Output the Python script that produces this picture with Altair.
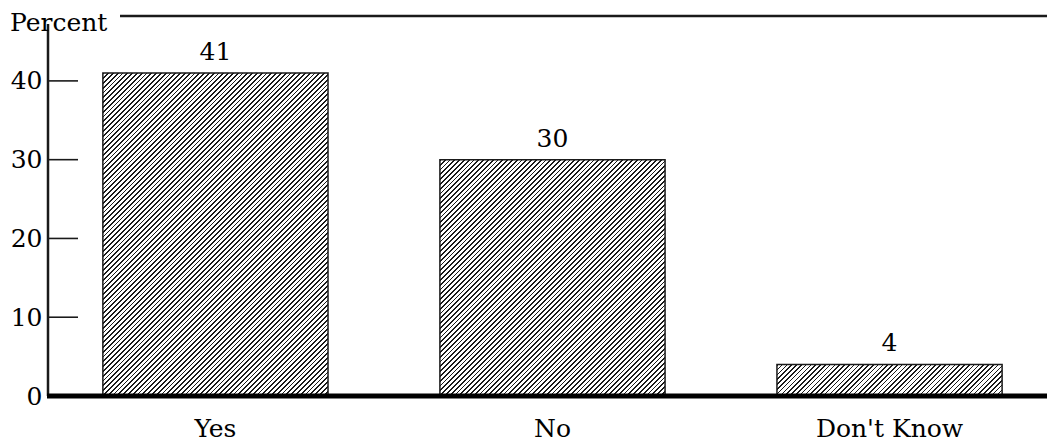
import math
import altair as alt
import pandas as pd

# ---- data ----
categories = ["Yes", "No", "Don't Know"]
values = [41, 30, 4]
y_ticks = [0, 10, 20, 30, 40]
y_title = "Percent"

# ---- layout / style ----
FONT = "DejaVu Serif"
FS = 25
W_PLOT = 999
H_PLOT = 386
Y_MAX = 49
PX_PER_UNIT = H_PLOT / Y_MAX
PAD_IN = 0.332
PAD_OUT = 0.148
STEP = W_PLOT / (len(categories) - PAD_IN + 2 * PAD_OUT)
BAR_W = STEP * (1 - PAD_IN)
HATCH_PERIOD = 4.8      # horizontal spacing of hatch lines, px
HATCH_FRAC = 0.36       # fraction of period that is dark
INK = "#1a1a1a"

df = pd.DataFrame({"cat": categories, "val": values})

x_scale = alt.Scale(domain=categories, paddingInner=PAD_IN,
                    paddingOuter=PAD_OUT, align=0.55)
y_scale = alt.Scale(domain=[0, Y_MAX], nice=False, zero=True)

x_axis = alt.Axis(labelFont=FONT, labelFontSize=FS, labelColor="black",
                  labelAngle=0, labelPadding=20, ticks=False,
                  tickSize=0, domain=False, grid=False)
y_axis = alt.Axis(values=y_ticks, labelFont=FONT, labelFontSize=FS,
                  labelColor="black", labelPadding=6, ticks=False,
                  tickSize=0, domain=False, grid=False)

x_enc = alt.X("cat:N", scale=x_scale, sort=categories, title=None, axis=x_axis)
y_enc = alt.Y("val:Q", scale=y_scale, title=None, axis=y_axis)


def hatch_gradient(w, h):
    """Diagonal '/' hatching as a striped linear gradient over the bar's box."""
    d = w * w + h * h
    x2 = (w + h) * w / d
    y2 = (w + h) * h / d
    n = (w + h) / HATCH_PERIOD
    stops = []
    i = 0
    while i / n < 1:
        a = i / n
        b = min((i + HATCH_FRAC) / n, 1.0)
        c = min((i + 1) / n, 1.0)
        stops += [
            {"offset": a, "color": INK},
            {"offset": b, "color": INK},
            {"offset": b, "color": "white"},
            {"offset": c, "color": "white"},
        ]
        i += 1
    return {"gradient": "linear", "x1": 0, "y1": 0, "x2": x2, "y2": y2,
            "stops": stops}


layers = []
for cat, val in zip(categories, values):
    grad = hatch_gradient(BAR_W, val * PX_PER_UNIT)
    layers.append(
        alt.Chart(df).transform_filter(alt.datum.cat == cat)
        .mark_bar(fill=grad, stroke=INK, strokeWidth=1.5)
        .encode(x=x_enc, y=y_enc)
    )

labels = alt.Chart(df).mark_text(
    baseline="bottom", dy=-8, font=FONT, fontSize=FS, color="black"
).encode(x=x_enc, y=y_enc, text="val:Q")

tick_df = pd.DataFrame({"val": [t for t in y_ticks if t != 0]})
ticks = alt.Chart(tick_df).mark_rule(color=INK, strokeWidth=1.6).encode(
    x=alt.value(0), x2=alt.value(30), y=y_enc)

zero_df = pd.DataFrame({"val": [0]})
y_axis_line = alt.Chart(zero_df).mark_rule(color=INK, strokeWidth=2.5).encode(
    x=alt.value(0), y=alt.value(14), y2=alt.value(H_PLOT))

baseline = alt.Chart(zero_df).mark_rule(color="black", strokeWidth=5).encode(
    x=alt.value(-1), x2=alt.value(W_PLOT + 20), y=y_enc)

top_rule = alt.Chart(zero_df).mark_rule(color=INK, strokeWidth=2.5).encode(
    x=alt.value(72), x2=alt.value(W_PLOT + 20), y=alt.value(6))

title_txt = alt.Chart(zero_df).mark_text(
    align="left", baseline="alphabetic", font=FONT, fontSize=FS, color="black"
).encode(x=alt.value(-38), y=alt.value(21), text=alt.value(y_title))

chart = alt.layer(
    *layers, labels, ticks, y_axis_line, baseline, top_rule, title_txt
).properties(
    width=W_PLOT, height=H_PLOT,
    autosize=alt.AutoSizeParams(type="none"),
    padding={"left": 40, "top": 2, "right": 0, "bottom": 48},
    background="white",
).configure_view(stroke=None)

chart.save("out.html", embed_options={"renderer": "svg", "actions": False})
